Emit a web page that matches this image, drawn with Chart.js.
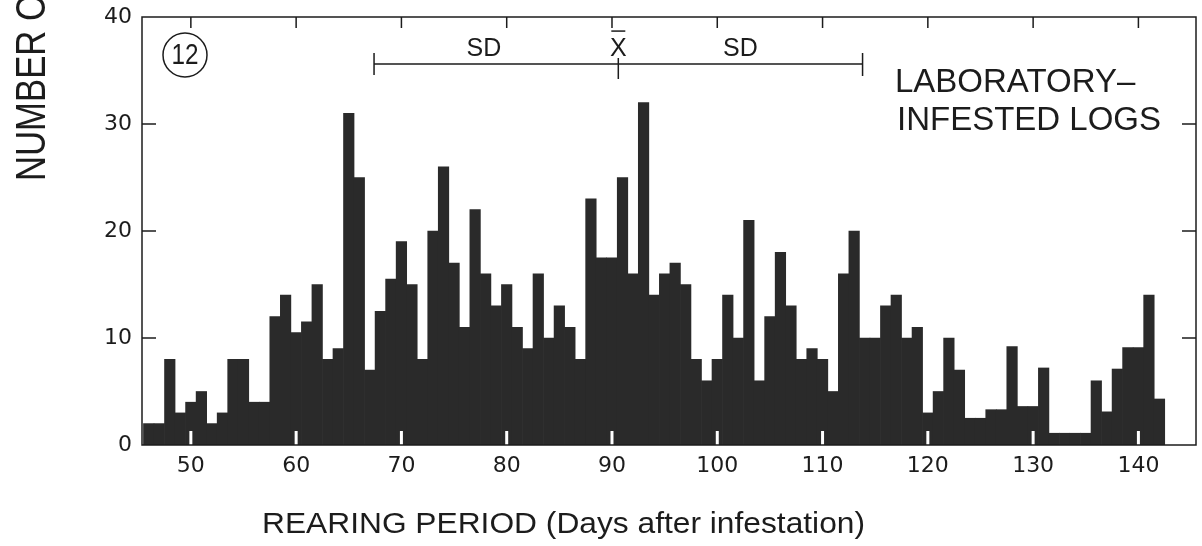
<!DOCTYPE html>
<html>
<head>
<meta charset="utf-8">
<script src="https://cdn.jsdelivr.net/npm/chart.js@4.4.1/dist/chart.umd.min.js"></script>
<style>
    html, body { margin: 0; padding: 0; background: #fff; }
    #wrap { width: 1202px; height: 546px; }
</style>
</head>
<body>
<div id="wrap"><canvas id="chart" width="1202" height="546"></canvas></div>
<script>
// Panel 12 - rearing period histogram, laboratory-infested logs

const days = [
    46, 47, 48, 49, 50, 51, 52, 53, 54, 55, 56, 57, 58, 59, 60, 61, 62, 63, 64, 65,
    66, 67, 68, 69, 70, 71, 72, 73, 74, 75, 76, 77, 78, 79, 80, 81, 82, 83, 84, 85,
    86, 87, 88, 89, 90, 91, 92, 93, 94, 95, 96, 97, 98, 99, 100, 101, 102, 103, 104, 105,
    106, 107, 108, 109, 110, 111, 112, 113, 114, 115, 116, 117, 118, 119, 120, 121, 122, 123, 124, 125,
    126, 127, 128, 129, 130, 131, 132, 133, 134, 135, 136, 137, 138, 139, 140, 141, 142
];

const counts = [
    2, 2, 8, 3, 4, 5, 2, 3, 8, 8, 4, 4, 12, 14, 10.5, 11.5, 15, 8, 9, 31,
    25, 7, 12.5, 15.5, 19, 15, 8, 20, 26, 17, 11, 22, 16, 13, 15, 11, 9, 16, 10, 13,
    11, 8, 23, 17.5, 17.5, 25, 16, 32, 14, 16, 17, 15, 8, 6, 8, 14, 10, 21, 6, 12,
    18, 13, 8, 9, 8, 5, 16, 20, 10, 10, 13, 14, 10, 11, 3, 5, 10, 7, 2.5, 2.5,
    3.3, 3.3, 9.2, 3.6, 3.6, 7.2, 1.1, 1.1, 1.1, 1.1, 6, 3.1, 7.1, 9.1, 9.1, 14, 4.3
];

const xTicks = [50, 60, 70, 80, 90, 100, 110, 120, 130, 140];
const yTicks = [0, 10, 20, 30, 40];

// mean and standard deviation bar drawn above the bars
const meanDay = 90.6;
const sdDays = 23.2;
const sdLevel = 35.6;

const panelLabel = '12';
const noteLines = ['LABORATORY\u2013', 'INFESTED LOGS'];
const xTitle = 'REARING PERIOD (Days after infestation)';
const yTitle = 'NUMBER OF';

const FONT = "'Liberation Sans', Arial, Helvetica, sans-serif";
const TICK_FONT = "'DejaVu Sans', 'Liberation Sans', sans-serif";
const INK = '#1c1c1c';

// draw text squeezed or stretched horizontally by sx
function drawScaled(ctx, text, x, y, sx) {
    ctx.save();
    ctx.translate(x, y);
    ctx.scale(sx, 1);
    ctx.fillText(text, 0, 0);
    ctx.restore();
}

const framePlugin = {
    id: 'frame',
    afterDatasetsDraw(chart) {
        const ctx = chart.ctx;
        const area = chart.chartArea;
        const xs = chart.scales.x;
        const ys = chart.scales.y;

        ctx.save();

        // white notches where the bottom ticks cut through the bars
        ctx.strokeStyle = '#fff';
        ctx.lineWidth = 3;
        xTicks.forEach(function(v) {
            const px = xs.getPixelForValue(v);
            ctx.beginPath();
            ctx.moveTo(px, area.bottom);
            ctx.lineTo(px, area.bottom - 14);
            ctx.stroke();
        });

        // frame
        ctx.strokeStyle = INK;
        ctx.lineWidth = 1.5;
        ctx.strokeRect(area.left, area.top, area.right - area.left, area.bottom - area.top);

        // inward ticks, top and both sides
        ctx.beginPath();
        xTicks.forEach(function(v) {
            const px = xs.getPixelForValue(v);
            ctx.moveTo(px, area.top);
            ctx.lineTo(px, area.top + 11);
        });
        yTicks.slice(1, -1).forEach(function(v) {
            const py = ys.getPixelForValue(v);
            ctx.moveTo(area.left, py);
            ctx.lineTo(area.left + 14, py);
            ctx.moveTo(area.right, py);
            ctx.lineTo(area.right - 14, py);
        });
        ctx.stroke();

        // SD bar
        const ly = ys.getPixelForValue(sdLevel);
        const x1 = xs.getPixelForValue(meanDay - sdDays);
        const x2 = xs.getPixelForValue(meanDay + sdDays);
        const xm = xs.getPixelForValue(meanDay);
        ctx.lineWidth = 1.5;
        ctx.beginPath();
        ctx.moveTo(x1, ly);
        ctx.lineTo(x2, ly);
        ctx.moveTo(x1, ly - 11);
        ctx.lineTo(x1, ly + 11);
        ctx.moveTo(x2, ly - 11);
        ctx.lineTo(x2, ly + 12);
        ctx.moveTo(xm, ly - 6);
        ctx.lineTo(xm, ly + 15);
        ctx.stroke();

        ctx.fillStyle = INK;
        ctx.font = '25px ' + FONT;
        ctx.textAlign = 'center';
        ctx.textBaseline = 'alphabetic';
        ctx.fillText('SD', xs.getPixelForValue(meanDay - sdDays * 0.55), ly - 8);
        ctx.fillText('SD', xs.getPixelForValue(meanDay + sdDays * 0.5), ly - 8);
        ctx.fillText('X', xm, ly - 8);
        ctx.beginPath();
        ctx.moveTo(xm - 7, ly - 33);
        ctx.lineTo(xm + 7, ly - 33);
        ctx.stroke();

        // circled panel number
        ctx.beginPath();
        ctx.arc(area.left + 43, area.top + 38, 22, 0, Math.PI * 2);
        ctx.stroke();
        ctx.font = '30px ' + FONT;
        ctx.textAlign = 'left';
        ctx.textBaseline = 'middle';
        const pw = ctx.measureText(panelLabel).width;
        drawScaled(ctx, panelLabel, area.left + 43 - 13.5, area.top + 39, 27 / pw);

        // note at upper right
        ctx.font = '33px ' + FONT;
        ctx.textBaseline = 'alphabetic';
        ctx.fillText(noteLines[0], area.right - 301, area.top + 75);
        ctx.fillText(noteLines[1], area.right - 299, area.top + 113);

        // x title, squeezed to the width of the original lettering
        ctx.font = '30px ' + FONT;
        const tw = ctx.measureText(xTitle).width;
        drawScaled(ctx, xTitle, 262, 533, 603 / tw);

        // y title, clipped at the top of the picture
        ctx.font = '42px ' + FONT;
        const nw = ctx.measureText('NUMBER ').width;
        ctx.save();
        ctx.translate(45, 181);
        ctx.rotate(-Math.PI / 2);
        ctx.scale(160 / nw, 1);
        ctx.fillText(yTitle, 0, 0);
        ctx.restore();

        ctx.restore();
    }
};

const ctx = document.getElementById('chart').getContext('2d');

new Chart(ctx, {
    type: 'bar',
    data: {
        datasets: [{
            data: days.map(function(d, i) { return { x: d, y: counts[i] }; }),
            backgroundColor: '#2a2a2a',
            borderWidth: 0,
            barPercentage: 1,
            categoryPercentage: 1
        }]
    },
    options: {
        responsive: false,
        animation: false,
        events: [],
        layout: { padding: { top: 17, right: 6, left: 0, bottom: 0 } },
        plugins: {
            legend: { display: false },
            tooltip: { enabled: false }
        },
        scales: {
            x: {
                type: 'linear',
                min: 45.36,
                max: 145.47,
                offset: false,
                afterBuildTicks: function(s) { s.ticks = xTicks.map(function(v) { return { value: v }; }); },
                afterFit: function(s) {
                    s.height = 101;
                    s.paddingLeft = 0;
                    s.paddingRight = 0;
                },
                grid: { display: false, drawTicks: false },
                border: { display: false },
                ticks: {
                    autoSkip: false,
                    maxRotation: 0,
                    padding: 8,
                    color: INK,
                    font: { family: TICK_FONT, size: 22 }
                }
            },
            y: {
                min: 0,
                max: 40,
                afterBuildTicks: function(s) { s.ticks = yTicks.map(function(v) { return { value: v }; }); },
                afterFit: function(s) {
                    s.width = 142;
                    s.paddingTop = 0;
                    s.paddingBottom = 0;
                },
                grid: { display: false, drawTicks: false },
                border: { display: false },
                ticks: {
                    padding: 10,
                    color: INK,
                    font: { family: TICK_FONT, size: 22 }
                }
            }
        }
    },
    plugins: [framePlugin]
});
</script>
</body>
</html>
